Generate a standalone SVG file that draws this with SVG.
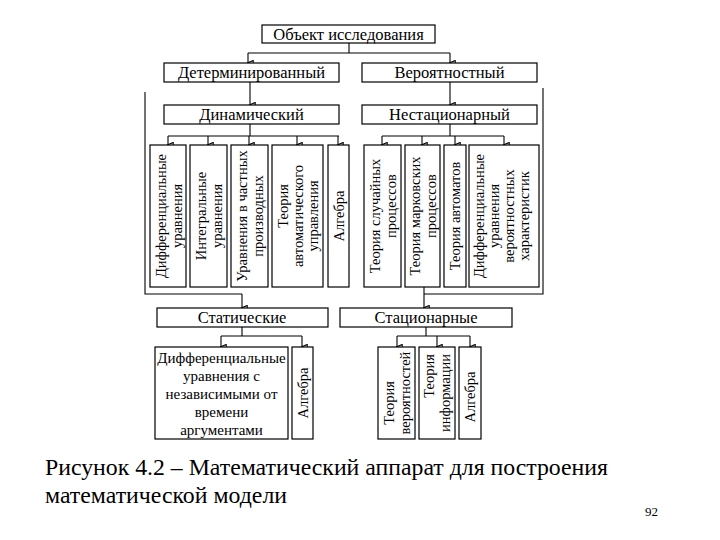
<svg xmlns="http://www.w3.org/2000/svg" width="720" height="540" viewBox="0 0 720 540">
<defs>
<marker id="ah" markerWidth="7" markerHeight="7" refX="3" refY="5" orient="auto-start-reverse" markerUnits="userSpaceOnUse" viewBox="0 0 6 6">
<path d="M0.8,0.5 L5.2,0.5 L3,5.5 Z" fill="#fff" stroke="#000" stroke-width="0.9"/>
</marker>
<style>
rect{fill:#fff;stroke:#000;stroke-width:1.2}
text{fill:#000;font-family:"Liberation Serif","Times New Roman",serif}
.h{font-size:16.5px;text-anchor:middle}
.v{font-size:14.5px;text-anchor:middle;dominant-baseline:central}
.c path{fill:none;stroke:#000;stroke-width:1.1}
.a{marker-end:url(#ah)}
</style>
</defs>
<rect x="0" y="0" width="720" height="540" style="fill:#fff;stroke:none"/>

<g class="c" id="connectors">
<path d="M349,43 V53 M248,53 H450"/>
<path class="a" d="M248,53 V63"/>
<path class="a" d="M450,53 V63"/>
<path class="a" d="M250,82 V105"/>
<path class="a" d="M450,82 V105"/>
<path d="M250,124 V136 M168,136 H339"/>
<path class="a" d="M168,136 V145"/>
<path class="a" d="M208,136 V145"/>
<path class="a" d="M249,136 V145"/>
<path class="a" d="M297,136 V145"/>
<path class="a" d="M338,136 V145"/>
<path d="M450,124 V136 M382,136 H504"/>
<path class="a" d="M382,136 V145"/>
<path class="a" d="M422,136 V145"/>
<path class="a" d="M455,136 V145"/>
<path class="a" d="M504,136 V145"/>
<path d="M145,92 V294 H242"/>
<path class="a" d="M242,294 V308"/>
<path d="M543,88 V294 H424"/>
<path class="a" d="M424,287 V308"/>
<path d="M242,327 V336 M221,336 H302"/>
<path class="a" d="M221,336 V347"/>
<path class="a" d="M302,336 V347"/>
<path d="M426,327 V336 M397,336 H470"/>
<path class="a" d="M397,336 V347"/>
<path class="a" d="M437,336 V347"/>
<path class="a" d="M470,336 V347"/>
</g>

<g id="n-object"><rect x="262" y="25" width="173" height="18"/><text class="h" x="348.5" y="39.5">Объект исследования</text></g>
<g id="n-determ"><rect x="164" y="63" width="175" height="19"/><text class="h" x="251.5" y="78">Детерминированный</text></g>
<g id="n-prob"><rect x="362" y="63" width="175" height="19"/><text class="h" x="449.5" y="78">Вероятностный</text></g>
<g id="n-dyn"><rect x="164" y="105" width="175" height="19"/><text class="h" x="251.5" y="120">Динамический</text></g>
<g id="n-nonstat"><rect x="362" y="105" width="175" height="19"/><text class="h" x="449.5" y="120">Нестационарный</text></g>

<g id="n-diffeq"><rect x="150" y="145" width="36" height="142"/>
<text class="v" transform="translate(161,216) rotate(-90)">Дифференциальные</text>
<text class="v" transform="translate(177,216) rotate(-90)">уравнения</text></g>
<g id="n-integ"><rect x="190" y="145" width="37" height="142"/>
<text class="v" transform="translate(201,216) rotate(-90)">Интегральные</text>
<text class="v" transform="translate(217,216) rotate(-90)">уравнения</text></g>
<g id="n-pde"><rect x="231" y="145" width="37" height="142"/>
<text class="v" transform="translate(242,216) rotate(-90)">Уравнения в частных</text>
<text class="v" transform="translate(258,216) rotate(-90)">производных</text></g>
<g id="n-tau"><rect x="272" y="145" width="51" height="142"/>
<text class="v" transform="translate(283,206) rotate(-90)">Теория</text>
<text class="v" transform="translate(298,216) rotate(-90)">автоматического</text>
<text class="v" transform="translate(313,216) rotate(-90)">управления</text></g>
<g id="n-alg1"><rect x="328" y="145" width="21" height="142"/>
<text class="v" transform="translate(339,216) rotate(-90)">Алгебра</text></g>

<g id="n-random"><rect x="364" y="145" width="37" height="142"/>
<text class="v" transform="translate(375,216) rotate(-90)">Теория случайных</text>
<text class="v" transform="translate(391,206) rotate(-90)">процессов</text></g>
<g id="n-markov"><rect x="405" y="145" width="35" height="142"/>
<text class="v" transform="translate(415,216) rotate(-90)">Теория марковских</text>
<text class="v" transform="translate(431,206) rotate(-90)">процессов</text></g>
<g id="n-automata"><rect x="444" y="145" width="22" height="142"/>
<text class="v" transform="translate(455,216) rotate(-90)">Теория автоматов</text></g>
<g id="n-probchar"><rect x="469" y="145" width="70" height="142"/>
<text class="v" transform="translate(479,216) rotate(-90)">Дифференциальные</text>
<text class="v" transform="translate(494,216) rotate(-90)">уравнения</text>
<text class="v" transform="translate(509,216) rotate(-90)">вероятностных</text>
<text class="v" transform="translate(524,216) rotate(-90)">характеристик</text></g>

<g id="n-static"><rect x="157" y="308" width="171" height="19"/><text class="h" x="242" y="323">Статические</text></g>
<g id="n-stationary"><rect x="340" y="308" width="172" height="19"/><text class="h" x="426" y="323">Стационарные</text></g>

<g id="n-diffind"><rect x="155" y="347" width="133" height="92"/>
<text class="h" style="font-size:15px" x="221.5" y="363">Дифференциальные</text>
<text class="h" style="font-size:15px" x="221.5" y="381">уравнения с</text>
<text class="h" style="font-size:15px" x="221.5" y="399">независимыми от</text>
<text class="h" style="font-size:15px" x="221.5" y="417">времени</text>
<text class="h" style="font-size:15px" x="221.5" y="435">аргументами</text></g>
<g id="n-alg2"><rect x="292" y="347" width="21" height="92"/>
<text class="v" transform="translate(302.5,393) rotate(-90)">Алгебра</text></g>

<g id="n-probth"><rect x="378" y="347" width="37" height="92"/>
<text class="v" transform="translate(389,403) rotate(-90)">Теория</text>
<text class="v" transform="translate(405,393) rotate(-90)">вероятностей</text></g>
<g id="n-infoth"><rect x="419" y="347" width="36" height="92"/>
<text class="v" transform="translate(429,376) rotate(-90)">Теория</text>
<text class="v" transform="translate(445,393) rotate(-90)">информации</text></g>
<g id="n-alg3"><rect x="459" y="347" width="22" height="92"/>
<text class="v" transform="translate(470,397) rotate(-90)">Алгебра</text></g>

<g id="caption">
<text x="45" y="475" style="font-size:23px" textLength="563" lengthAdjust="spacingAndGlyphs">Рисунок 4.2 – Математический аппарат для построения</text>
<text x="45" y="503" style="font-size:23px" textLength="242" lengthAdjust="spacingAndGlyphs">математической модели</text>
<text x="645" y="516" style="font-size:13px">92</text>
</g>
</svg>
